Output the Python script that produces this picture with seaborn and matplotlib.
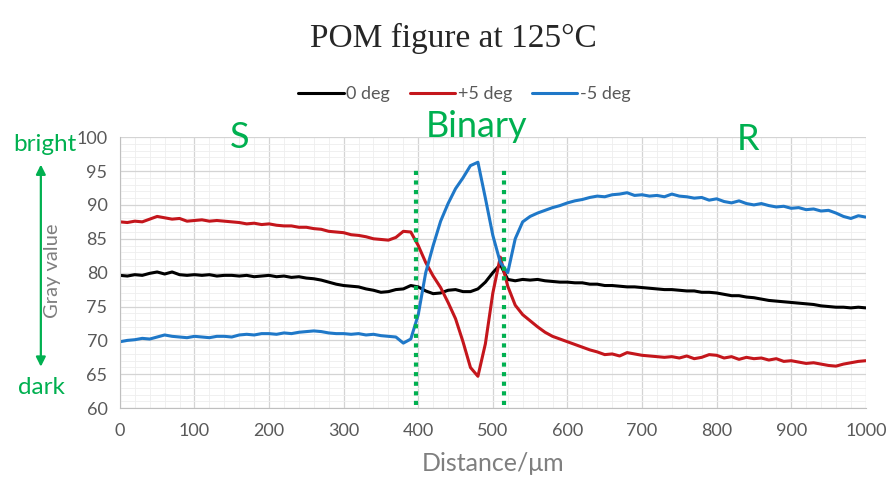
import pandas as pd
import seaborn as sns
import matplotlib.pyplot as plt
from matplotlib.patches import FancyArrowPatch
from matplotlib.ticker import MultipleLocator

# distance in um, one value every 10 um
distance = list(range(0, 1001, 10))

deg_0 = [79.6, 79.5, 79.7, 79.6, 79.9, 80.1, 79.8, 80.1, 79.7, 79.6,
         79.7, 79.6, 79.7, 79.5, 79.6, 79.6, 79.5, 79.6, 79.4, 79.5,
         79.6, 79.4, 79.5, 79.3, 79.4, 79.2, 79.1, 78.9, 78.6, 78.3,
         78.1, 78.0, 77.9, 77.6, 77.4, 77.1, 77.2, 77.5, 77.6, 78.1,
         77.9, 77.3, 76.9, 77.0, 77.4, 77.5, 77.2, 77.2, 77.6, 78.6,
         80.0, 81.2, 79.0, 78.8, 79.0, 78.9, 79.0, 78.8, 78.7, 78.6,
         78.6, 78.5, 78.5, 78.3, 78.3, 78.1, 78.1, 78.0, 77.9, 77.9,
         77.8, 77.7, 77.6, 77.5, 77.5, 77.4, 77.3, 77.3, 77.1, 77.1,
         77.0, 76.8, 76.6, 76.6, 76.4, 76.3, 76.1, 75.9, 75.8, 75.7,
         75.6, 75.5, 75.4, 75.3, 75.1, 75.0, 74.9, 74.9, 74.8, 74.9,
         74.8]

deg_plus5 = [87.5, 87.4, 87.6, 87.5, 87.9, 88.3, 88.1, 87.9, 88.0, 87.6,
             87.7, 87.8, 87.6, 87.7, 87.6, 87.5, 87.4, 87.2, 87.3, 87.1,
             87.2, 87.0, 86.9, 86.9, 86.7, 86.7, 86.5, 86.4, 86.1, 86.0,
             85.9, 85.6, 85.5, 85.3, 85.0, 84.9, 84.8, 85.2, 86.1, 86.0,
             84.0, 81.5, 79.5, 77.8, 75.6, 73.2, 69.8, 66.0, 64.7, 69.5,
             77.0, 82.3, 78.0, 75.2, 73.8, 72.9, 72.0, 71.2, 70.6, 70.2,
             69.8, 69.4, 69.0, 68.6, 68.3, 67.9, 68.0, 67.7, 68.2, 68.0,
             67.8, 67.7, 67.6, 67.5, 67.6, 67.4, 67.7, 67.3, 67.5, 67.9,
             67.8, 67.4, 67.6, 67.2, 67.5, 67.3, 67.4, 67.1, 67.3, 66.9,
             67.0, 66.8, 66.6, 66.7, 66.5, 66.3, 66.2, 66.5, 66.7, 66.9,
             67.0]

deg_minus5 = [69.8, 70.0, 70.1, 70.3, 70.2, 70.5, 70.8, 70.6, 70.5, 70.4,
              70.6, 70.5, 70.4, 70.6, 70.6, 70.5, 70.8, 70.9, 70.8, 71.0,
              71.0, 70.9, 71.1, 71.0, 71.2, 71.3, 71.4, 71.3, 71.1, 71.0,
              71.0, 70.9, 71.0, 70.8, 70.9, 70.7, 70.6, 70.5, 69.6, 70.2,
              73.8, 80.0, 84.0, 87.6, 90.2, 92.4, 94.0, 95.8, 96.3, 91.0,
              85.5, 81.5, 80.0, 85.0, 87.5, 88.3, 88.8, 89.2, 89.6, 89.9,
              90.3, 90.6, 90.8, 91.1, 91.3, 91.2, 91.5, 91.6, 91.8, 91.4,
              91.5, 91.3, 91.4, 91.2, 91.6, 91.3, 91.2, 91.0, 91.1, 90.7,
              90.9, 90.5, 90.3, 90.6, 90.2, 90.0, 90.2, 89.9, 89.7, 89.8,
              89.5, 89.6, 89.3, 89.4, 89.1, 89.2, 88.8, 88.3, 88.0, 88.4,
              88.2]

series_names = ["0 deg", "+5 deg", "-5 deg"]
series_colors = ["#000000", "#c4161c", "#1f78c8"]
boundaries = [397, 515]
regions = ["S", "Binary", "R"]
region_x = [160, 478, 842]
region_y = [100.0, 101.6, 99.6]

df = pd.DataFrame({
    "distance": distance * 3,
    "gray": deg_0 + deg_plus5 + deg_minus5,
    "angle": [n for n in series_names for _ in distance],
})

sns.set_style("white")
plt.rcParams["font.family"] = ["Lato", "DejaVu Sans"]

fig = plt.figure(figsize=(8.88, 4.83), dpi=100)
ax = fig.add_axes([0.135, 0.155, 0.84, 0.561])

sns.lineplot(data=df, x="distance", y="gray", hue="angle",
             palette=dict(zip(series_names, series_colors)),
             linewidth=2.2, ax=ax, legend=False)

green = "#00b050"
for b in boundaries:
    ax.plot([b, b], [60.5, 95.5], color=green, linestyle=(0, (1, 1.3)),
            linewidth=3, zorder=5)

ax.set_xlim(0, 1000)
ax.set_ylim(60, 100)
ax.xaxis.set_major_locator(MultipleLocator(100))
ax.xaxis.set_minor_locator(MultipleLocator(20))
ax.yaxis.set_major_locator(MultipleLocator(5))
ax.yaxis.set_minor_locator(MultipleLocator(1))
ax.grid(which="major", color="#d4d4d4", linewidth=0.9)
ax.grid(which="minor", color="#eeeeee", linewidth=0.6)
ax.set_axisbelow(True)
for s in ["top", "right"]:
    ax.spines[s].set_visible(False)
for s in ["left", "bottom"]:
    ax.spines[s].set_color("#bfbfbf")
ax.tick_params(axis="both", which="major", labelsize=13, colors="#595959",
               length=5, pad=6)
ax.tick_params(axis="x", colors="#bfbfbf", labelcolor="#595959")
ax.tick_params(axis="y", length=0, pad=9)
ax.tick_params(which="minor", length=0)
ax.set_xlabel("Distance/μm", fontsize=18, color="#7f7f7f", labelpad=9)
ax.set_ylabel("")

for name, xx, yy in zip(regions, region_x, region_y):
    ax.text(xx, yy, name, color=green, fontsize=26, ha="center",
            va="center")

# legend
handles = [plt.Line2D([], [], color=c, linewidth=2.2) for c in series_colors]
fig.legend(handles, series_names, loc="center", bbox_to_anchor=(0.523, 0.805),
           ncol=3, frameon=False, fontsize=13, handlelength=2.5,
           handletextpad=0.15, columnspacing=1.1, labelcolor="#595959")

fig.text(0.51, 0.921, "POM figure at 125°C", ha="center", va="center",
         fontsize=24, family="Liberation Serif")

# bright / dark annotation at left
fig.text(0.05, 0.70, "bright", color=green, fontsize=17.5, ha="center",
         va="center")
fig.text(0.047, 0.197, "dark", color=green, fontsize=17.5, ha="center",
         va="center")
fig.text(0.059, 0.44, "Gray value", color="#7f7f7f", fontsize=14.5,
         rotation=90, ha="center", va="center")
fig.patches.append(FancyArrowPatch((0.046, 0.235), (0.046, 0.665),
                                   transform=fig.transFigure,
                                   arrowstyle="<|-|>", mutation_scale=14,
                                   color=green, linewidth=1.6))

fig.savefig("out.png", dpi=100)
